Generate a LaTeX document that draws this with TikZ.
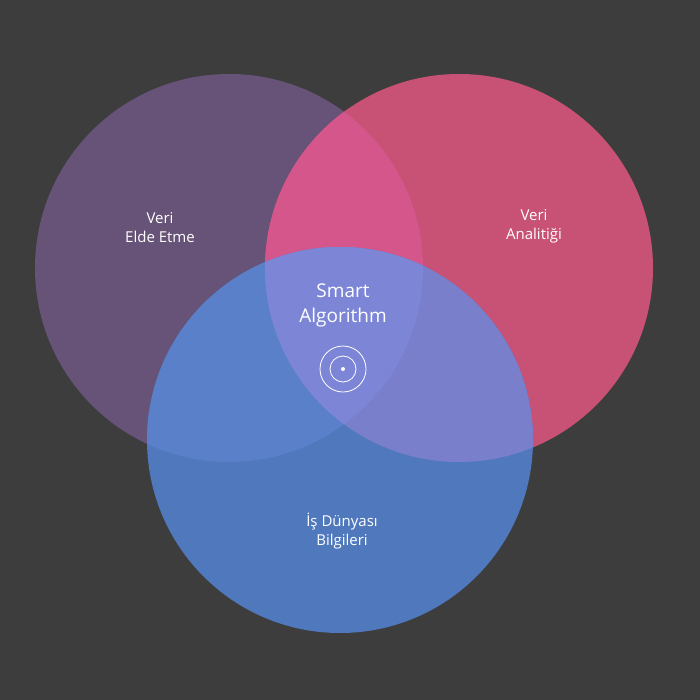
\documentclass[tikz,border=0pt]{standalone}
\usepackage{fontspec}
\setmainfont{Open Sans}
\definecolor{bg}{HTML}{3D3D3D}
\definecolor{cA}{HTML}{665377}
\definecolor{cB}{HTML}{C85276}
\definecolor{cC}{HTML}{4F78BD}
\definecolor{cAB}{HTML}{D4568A}
\definecolor{cAC}{HTML}{5A80CA}
\definecolor{cBC}{HTML}{7A7FCB}
\definecolor{cABC}{HTML}{7D86D6}
\tikzset{lbl/.style={text=white,align=center,font=\fontsize{15}{19}\selectfont},
 big/.style={text=white,align=center,font=\fontsize{19}{25}\selectfont}}
\begin{document}
\begin{tikzpicture}[x=1pt,y=-1pt]
\fill[bg] (0,0) rectangle (700,700);
\useasboundingbox (0,0) rectangle (700,700);
\def\A{(229,268) circle (194)}
\def\B{(459,268) circle (194)}
\def\C{(340,440) circle (193)}
\fill[cA] \A; \fill[cB] \B; \fill[cC] \C;
\begin{scope}\clip \A; \fill[cAB] \B; \fill[cAC] \C; \end{scope}
\begin{scope}\clip \B; \fill[cBC] \C; \end{scope}
\begin{scope}\clip \A; \clip \B; \fill[cABC] \C; \end{scope}
\node[lbl] (a) at (160,228) {Veri\\Elde Etme};
\node[lbl] (b) at (534,226) {Veri\\Analitiği};
\node[lbl] (c) at (342,531) {İş Dünyası\\Bilgileri};
\node[big] (s) at (343,305) {Smart\\Algorithm};
\node[draw=white,line width=0.8pt,circle,minimum size=46pt,inner sep=0] (i1) at (343,369) {};
\node[draw=white,line width=0.8pt,circle,minimum size=26pt,inner sep=0] (i2) at (343,369) {};
\node[fill=white,circle,minimum size=4pt,inner sep=0] (i3) at (343,369) {};
\end{tikzpicture}
\end{document}
